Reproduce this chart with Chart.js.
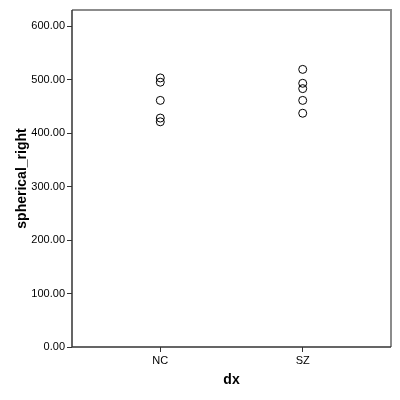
<!DOCTYPE html>
<html>
<head>
<meta charset="utf-8">
<script src="https://cdn.jsdelivr.net/npm/chart.js@4"></script>
<style>
    html, body { margin: 0; padding: 0; background: #ffffff; }
    #wrap { width: 400px; height: 400px; }
</style>
</head>
<body>
<div id="wrap"><canvas id="scatterChart" width="400" height="400"></canvas></div>
<script>
// data
var categories = ["NC", "SZ"];
var ncValues = [503, 495, 461, 428, 421];
var szValues = [519, 493, 483, 461, 437];
var yTicks = [0, 100, 200, 300, 400, 500, 600];

function toPoints(pos, values) {
    var pts = [];
    for (var i = 0; i < values.length; ++i) {
        pts.push({ x: pos, y: values[i] });
    }
    return pts;
}

// frame round the plot area (SPSS style)
var frameBox = {
    id: "frameBox",
    afterDatasetsDraw: function (chart) {
        var a = chart.chartArea;
        var ctx = chart.ctx;
        ctx.save();
        ctx.strokeStyle = "#8c8c8c";
        ctx.lineWidth = 2;
        ctx.beginPath();
        ctx.moveTo(a.left, a.top);
        ctx.lineTo(a.right, a.top);
        ctx.lineTo(a.right, a.bottom);
        ctx.stroke();
        ctx.strokeStyle = "#333333";
        ctx.lineWidth = 1.5;
        ctx.beginPath();
        ctx.moveTo(a.left, a.top);
        ctx.lineTo(a.left, a.bottom);
        ctx.lineTo(a.right, a.bottom);
        ctx.stroke();
        ctx.restore();
    }
};

const pointStyle = {
    pointStyle: "circle",
    pointRadius: 4,
    pointBorderWidth: 1,
    borderColor: "#000000",
    backgroundColor: "rgba(0,0,0,0)",
    showLine: false
};

const data = {
    datasets: [
        Object.assign({ label: categories[0], data: toPoints(1, ncValues) }, pointStyle),
        Object.assign({ label: categories[1], data: toPoints(2, szValues) }, pointStyle)
    ]
};

const config = {
    type: "scatter",
    data: data,
    plugins: [frameBox],
    options: {
        responsive: false,
        animation: false,
        layout: { padding: { left: 0, top: 10, right: 9, bottom: 0 } },
        plugins: {
            legend: { display: false },
            tooltip: { enabled: false }
        },
        scales: {
            x: {
                type: "linear",
                min: 0.38,
                max: 2.62,
                afterBuildTicks: function (scale) {
                    scale.ticks = [{ value: 1 }, { value: 2 }];
                },
                afterFit: function (scale) {
                    scale.height = 53;
                },
                ticks: {
                    color: "#000000",
                    font: { family: "Liberation Sans", size: 11 },
                    padding: 2,
                    callback: function (v) {
                        return categories[v - 1];
                    }
                },
                grid: {
                    drawOnChartArea: false,
                    drawTicks: true,
                    tickLength: 5,
                    color: "#333333"
                },
                border: { display: false },
                title: {
                    display: true,
                    text: "dx",
                    color: "#000000",
                    font: { family: "Liberation Sans", size: 14, weight: "bold" },
                    padding: { top: 8, bottom: 11 }
                }
            },
            y: {
                min: 0,
                max: 630,
                afterBuildTicks: function (scale) {
                    scale.ticks = yTicks.map(function (v) { return { value: v }; });
                },
                afterFit: function (scale) {
                    scale.width = 72;
                },
                ticks: {
                    color: "#000000",
                    font: { family: "Liberation Sans", size: 11 },
                    padding: 2,
                    callback: function (v) {
                        return Number(v).toFixed(2);
                    }
                },
                grid: {
                    drawOnChartArea: false,
                    drawTicks: true,
                    tickLength: 5,
                    color: "#333333"
                },
                border: { display: false },
                title: {
                    display: true,
                    text: "spherical_right",
                    color: "#000000",
                    font: { family: "Liberation Sans", size: 14, weight: "bold" },
                    padding: { top: 14, bottom: 4 }
                }
            }
        }
    }
};

var myChart = new Chart(document.getElementById("scatterChart"), config);
</script>
</body>
</html>
